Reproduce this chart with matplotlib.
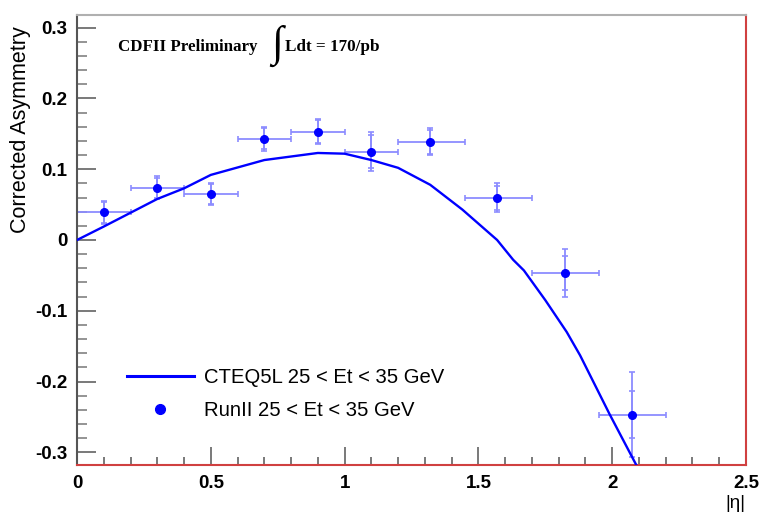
import matplotlib
matplotlib.use("Agg")
import matplotlib.pyplot as plt
from matplotlib.lines import Line2D
from matplotlib.ticker import MultipleLocator, FixedFormatter, FixedLocator
import numpy as np

# ---- data ----
eta_center = [0.1, 0.3, 0.5, 0.7, 0.9, 1.1, 1.32, 1.57, 1.825, 2.075]
bin_low = [0.0, 0.2, 0.4, 0.6, 0.8, 1.0, 1.2, 1.45, 1.7, 1.95]
bin_high = [0.2, 0.4, 0.6, 0.8, 1.0, 1.2, 1.45, 1.7, 1.95, 2.2]
asym = [0.039, 0.074, 0.065, 0.143, 0.153, 0.125, 0.139, 0.060, -0.047, -0.247]
err_stat = [0.015, 0.014, 0.014, 0.015, 0.016, 0.023, 0.017, 0.017, 0.024, 0.033]
err_total = [0.016, 0.016, 0.016, 0.017, 0.018, 0.027, 0.019, 0.021, 0.034, 0.060]

curve_eta = [0.0, 0.1, 0.3, 0.4, 0.5, 0.7, 0.9, 1.0, 1.1, 1.2, 1.32, 1.44, 1.57,
             1.63, 1.67, 1.75, 1.83, 1.88, 1.99, 2.09, 2.1]
curve_asym = [0.0, 0.019, 0.058, 0.073, 0.092, 0.113, 0.123, 0.122, 0.113, 0.102,
              0.078, 0.043, 0.0, -0.028, -0.043, -0.085, -0.130, -0.163, -0.246,
              -0.318, -0.325]

ytick_vals = [-0.3, -0.2, -0.1, 0.0, 0.1, 0.2, 0.3]
ytick_labels = ["-0.3", "-0.2", "-0.1", "0", "0.1", "0.2", "0.3"]
xtick_vals = [0.0, 0.5, 1.0, 1.5, 2.0, 2.5]
xtick_labels = ["0", "0.5", "1", "1.5", "2", "2.5"]

legend_curve = "CTEQ5L 25 < Et < 35 GeV"
legend_data = "RunII 25 < Et < 35 GeV"
ylabel = "Corrected Asymmetry"
xlabel = "|η|"

# ---- figure ----
plt.rcParams['font.family'] = ['Liberation Sans', 'DejaVu Sans']
fig = plt.figure(figsize=(7.61, 5.14), dpi=100)
ax = fig.add_axes([77/761, 49/514, 669/761, 450/514])

ax.set_xlim(0, 2.5)
ax.set_ylim(-0.318, 0.318)

blue = '#0000ff'
light = '#8c8cff'

x = np.array(eta_center)
xerr = [x - np.array(bin_low), np.array(bin_high) - x]
ax.errorbar(x, asym, xerr=xerr, yerr=err_total, fmt='none', ecolor=light,
            elinewidth=1.3, capsize=2.5, capthick=1.2, zorder=2)
ax.errorbar(x, asym, yerr=err_stat, fmt='none', ecolor=light,
            elinewidth=1.3, capsize=2.5, capthick=1.2, zorder=2)
ax.plot(x, asym, 'o', color=blue, markersize=5.5, zorder=3)
ax.plot(curve_eta, curve_asym, '-', color=blue, lw=1.7, zorder=4)

# ticks
ax.yaxis.set_major_locator(FixedLocator(ytick_vals))
ax.yaxis.set_major_formatter(FixedFormatter(ytick_labels))
ax.yaxis.set_minor_locator(MultipleLocator(0.02))
ax.xaxis.set_major_locator(FixedLocator(xtick_vals))
ax.xaxis.set_major_formatter(FixedFormatter(xtick_labels))
ax.xaxis.set_minor_locator(MultipleLocator(0.1))
ax.tick_params(axis='y', which='major', direction='in', length=14, width=1.1,
               color='#555555', pad=7, labelsize=13.5)
ax.tick_params(axis='y', which='minor', direction='in', length=7, width=1.1,
               color='#777777')
ax.tick_params(axis='x', which='major', direction='in', length=13, width=1.1,
               color='#555555', pad=7, labelsize=13.5)
ax.tick_params(axis='x', which='minor', direction='in', length=6, width=1.1,
               color='#555555')
for lab in ax.get_xticklabels() + ax.get_yticklabels():
    lab.set_fontweight('bold')

ax.spines['left'].set_color('#555555')
ax.spines['top'].set_color('#b0b0b0')
ax.spines['right'].set_color('#d04040')
ax.spines['bottom'].set_color('#d04040')
for s in ax.spines.values():
    s.set_linewidth(1.5)

# legend
handles = [Line2D([], [], color=blue, lw=2.2),
           Line2D([], [], marker='o', color=blue, ls='none', markersize=7)]
leg = ax.legend(handles, [legend_curve, legend_data], loc='center left',
                bbox_to_anchor=(50/669, 0.158), frameon=False, fontsize=14.6,
                handlelength=3.3, handletextpad=0.5, labelspacing=0.72,
                borderpad=0, borderaxespad=0)

# annotations
fig.text(118/761, 1 - 47/514, "CDFII Preliminary", family='Liberation Serif',
         weight='bold', fontsize=12.2, ha='left', va='center')
fig.text(271/761, 1 - 46/514, "∫", family='Liberation Serif', fontsize=31,
         ha='left', va='center')
fig.text(285/761, 1 - 47/514, "Ldt = 170/pb", family='Liberation Serif',
         weight='bold', fontsize=12.3, ha='left', va='center')

fig.text(21/761, 1 - 130/514, ylabel, rotation=90, fontsize=15.5,
         ha='center', va='center')
fig.text(735/761, 1 - 503/514, xlabel, fontsize=13.5, ha='center', va='center')

fig.savefig('out.png', dpi=100)
